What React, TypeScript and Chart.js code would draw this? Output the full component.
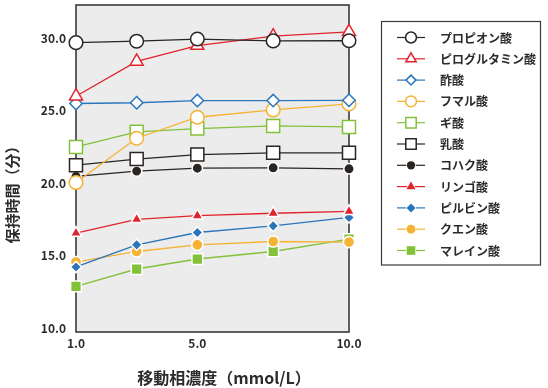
import React, { useEffect, useRef } from "react";
import { Chart, registerables } from "chart.js";

Chart.register(...registerables);

const concentrations = [1, 3, 5, 7.5, 10];
const xTicks = [1, 5, 10];
const yTicks = [10, 15, 20, 25, 30];

const seriesNames = [
  "プロピオン酸",
  "ピログルタミン酸",
  "酢酸",
  "フマル酸",
  "ギ酸",
  "乳酸",
  "コハク酸",
  "リンゴ酸",
  "ピルビン酸",
  "クエン酸",
  "マレイン酸",
];

const propionic = [29.7, 29.8, 29.95, 29.82, 29.83];
const pyroglutamic = [26.0, 28.4, 29.5, 30.15, 30.45];
const acetic = [25.5, 25.55, 25.7, 25.7, 25.72];
const fumaric = [20.04, 23.1, 24.55, 25.06, 25.47];
const formic = [22.5, 23.54, 23.77, 23.95, 23.88];
const lactic = [21.24, 21.66, 21.97, 22.09, 22.09];
const succinic = [20.46, 20.83, 21.03, 21.06, 20.99];
const malic = [16.55, 17.5, 17.75, 17.92, 18.05];
const pyruvic = [14.21, 15.74, 16.59, 17.05, 17.63];
const citric = [14.55, 15.28, 15.74, 15.97, 15.93];
const maleic = [12.87, 14.07, 14.76, 15.28, 16.14];

const seriesValues = [
  propionic, pyroglutamic, acetic, fumaric, formic, lactic,
  succinic, malic, pyruvic, citric, maleic,
];

const BLACK = "#2a2522";
const RED = "#e0242c";
const BLUE = "#2a75bb";
const ORANGE = "#f5b233";
const GREEN = "#84c13a";

const seriesColors = [BLACK, RED, BLUE, ORANGE, GREEN, BLACK, BLACK, RED, BLUE, ORANGE, GREEN];
const seriesShapes = ["circle", "triangle", "rectRot", "circle", "rect", "rect", "circle", "triangle", "rectRot", "circle", "rect"];
const seriesFilled = [false, false, false, false, false, false, true, true, true, true, true];
const seriesRadius = [6.8, 7.5, 6.2, 6.8, 9.2, 9.2, 5.2, 6.5, 5.6, 5.6, 7.6];

const FONT = "'Noto Sans CJK JP', 'Noto Sans', sans-serif";

function drawMarker(ctx: CanvasRenderingContext2D, shape: string, x: number, y: number, r: number) {
  ctx.beginPath();
  if (shape === "circle") {
    ctx.arc(x, y, r, 0, Math.PI * 2);
  } else if (shape === "triangle") {
    for (let i = 0; i < 3; i++) {
      const a = (i * 2 * Math.PI) / 3;
      const px = x + Math.sin(a) * r;
      const py = y - Math.cos(a) * r;
      if (i === 0) ctx.moveTo(px, py);
      else ctx.lineTo(px, py);
    }
  } else if (shape === "rectRot") {
    ctx.moveTo(x, y - r);
    ctx.lineTo(x + r, y);
    ctx.lineTo(x, y + r);
    ctx.lineTo(x - r, y);
  } else {
    const s = Math.SQRT1_2 * r;
    ctx.rect(x - s, y - s, 2 * s, 2 * s);
  }
  ctx.closePath();
}

const framePlugin = {
  id: "frame",
  beforeDatasetsDraw(chart: any) {
    const { ctx, chartArea } = chart;
    const { left, top, right, bottom } = chartArea;
    ctx.save();
    ctx.fillStyle = "#ececec";
    ctx.fillRect(left, top, right - left, bottom - top);
    ctx.strokeStyle = "#3a3a3a";
    ctx.lineWidth = 1.6;
    ctx.strokeRect(left, top, right - left, bottom - top);
    ctx.restore();
  },
  afterDraw(chart: any) {
    const { ctx } = chart;
    ctx.save();
    // axis titles
    ctx.fillStyle = "#2b2b2b";
    ctx.font = `bold 16px ${FONT}`;
    ctx.textAlign = "center";
    ctx.textBaseline = "middle";
    ctx.fillText("移動相濃度（mmol/L）", 224, 378);
    ctx.save();
    ctx.translate(12, 191);
    ctx.rotate(-Math.PI / 2);
    ctx.font = `bold 15px ${FONT}`;
    ctx.textAlign = "center";
    ctx.textBaseline = "middle";
    ctx.fillText("保持時間（分）", 0, 0);
    ctx.restore();

    // legend
    ctx.strokeStyle = "#3a3a3a";
    ctx.lineWidth = 1.2;
    ctx.strokeRect(381.5, 21.5, 159, 243.5);
    const ds = chart.data.datasets;
    ds.forEach((d: any, i: number) => {
      const y = 37.5 + i * 21.3;
      ctx.strokeStyle = d.borderColor;
      ctx.lineWidth = 1.2;
      ctx.beginPath();
      ctx.moveTo(397, y);
      ctx.lineTo(425, y);
      ctx.stroke();
      const filled = seriesFilled[i];
      const r = seriesRadius[i] * 0.8;
      drawMarker(ctx, d.pointStyle, 411, y, r);
      if (filled) {
        ctx.fillStyle = d.pointBackgroundColor;
        ctx.strokeStyle = "#ffffff";
        ctx.lineWidth = 1.5;
        ctx.stroke();
        ctx.fill();
      } else {
        ctx.fillStyle = "#ffffff";
        ctx.fill();
        ctx.strokeStyle = d.borderColor;
        ctx.lineWidth = 1.5;
        ctx.stroke();
      }
      ctx.fillStyle = "#2b2b2b";
      ctx.font = `bold 12px ${FONT}`;
      ctx.textAlign = "left";
      ctx.textBaseline = "middle";
      ctx.fillText(d.label, 440, y + 0.5);
    });
    ctx.restore();
  },
};

export default function App() {
  const canvasRef = useRef<HTMLCanvasElement | null>(null);

  useEffect(() => {
    document.body.style.margin = "0";
    const canvas = canvasRef.current;
    if (!canvas) return;

    const datasets = seriesNames.map((name, i) => ({
      label: name,
      data: concentrations.map((x, j) => ({ x, y: seriesValues[i][j] })),
      borderColor: seriesColors[i],
      borderWidth: 1.3,
      pointStyle: seriesShapes[i],
      pointRadius: seriesRadius[i],
      pointHoverRadius: seriesRadius[i],
      pointBackgroundColor: seriesFilled[i] ? seriesColors[i] : "#ffffff",
      pointBorderColor: seriesFilled[i] ? "#ffffff" : seriesColors[i],
      pointBorderWidth: 1.5,
      showLine: true,
      fill: false,
      tension: 0,
      clip: false as any,
    }));

    const chart = new Chart(canvas, {
      type: "line",
      data: { datasets },
      plugins: [framePlugin],
      options: {
        animation: false,
        responsive: false,
        devicePixelRatio: 1,
        layout: { autoPadding: false, padding: { left: 0, right: 199, top: 5, bottom: 0 } },
        plugins: {
          legend: { display: false },
          tooltip: { enabled: false },
        },
        scales: {
          x: {
            type: "linear",
            min: 1,
            max: 10,
            grid: { display: false, drawTicks: false },
            border: { display: false },
            afterBuildTicks: (scale: any) => {
              scale.ticks = xTicks.map((v) => ({ value: v }));
            },
            afterFit: (scale: any) => {
              scale.height = 56;
              scale.paddingLeft = 0;
              scale.paddingRight = 0;
            },
            ticks: {
              padding: 4,
              color: "#2b2b2b",
              font: { family: FONT, size: 12, weight: "bold" },
              callback: (v: any) => Number(v).toFixed(1),
              maxRotation: 0,
            },
          },
          y: {
            type: "linear",
            min: 9.72,
            max: 32.3,
            grid: { display: false, drawTicks: false },
            border: { display: false },
            afterBuildTicks: (scale: any) => {
              scale.ticks = yTicks.map((v) => ({ value: v }));
            },
            afterFit: (scale: any) => {
              scale.width = 76;
              scale.paddingTop = 0;
              scale.paddingBottom = 0;
            },
            ticks: {
              padding: 10,
              color: "#2b2b2b",
              font: { family: FONT, size: 12, weight: "bold" },
              callback: (v: any) => Number(v).toFixed(1),
            },
          },
        },
      },
    });

    return () => chart.destroy();
  }, []);

  return (
    <div style={{ position: "absolute", left: 0, top: 0, width: 548, height: 388, background: "#ffffff" }}>
      <canvas ref={canvasRef} width={548} height={388} />
    </div>
  );
}
